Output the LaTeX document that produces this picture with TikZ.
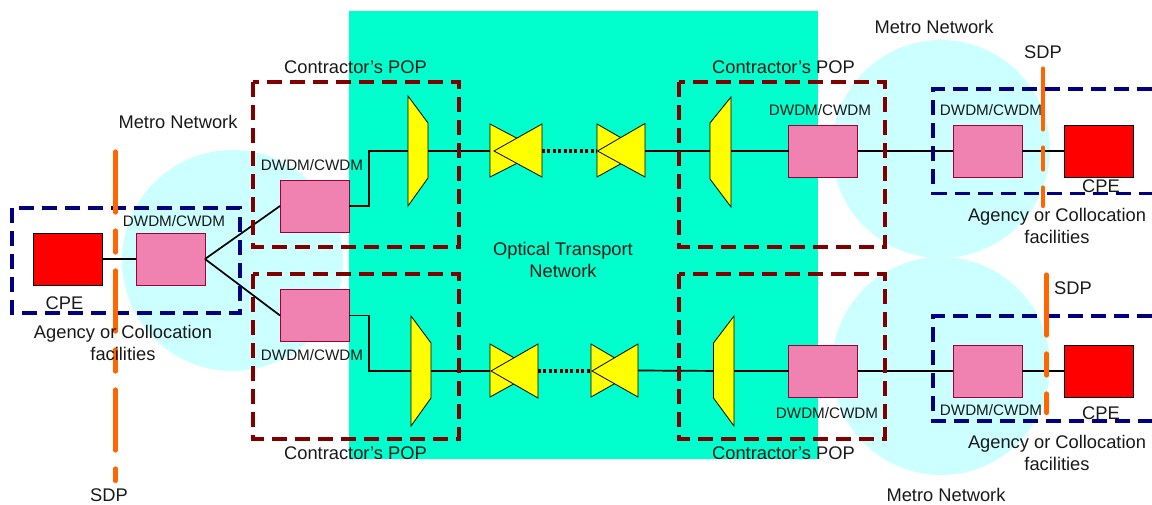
\documentclass[tikz,border=0pt]{standalone}
\usepackage{fontspec}
\setmainfont{Liberation Sans}
\definecolor{teal1}{HTML}{00FFCC}
\definecolor{cloud}{HTML}{CCFFFF}
\definecolor{pinkf}{HTML}{EF82B0}
\definecolor{pinkd}{HTML}{990033}
\definecolor{popred}{HTML}{800000}
\definecolor{agblue}{HTML}{000080}
\definecolor{sdporange}{HTML}{FF6600}
\definecolor{yel}{HTML}{FFFF00}
\definecolor{redf}{HTML}{FF0000}
\tikzset{
  mux/.style={draw=pinkd,line width=1pt,fill=pinkf,minimum width=69pt,minimum height=52pt,inner sep=0pt,outer sep=0pt},
  cpebox/.style={draw=black,line width=1pt,fill=redf,minimum width=69pt,minimum height=52pt,inner sep=0pt,outer sep=0pt},
  yshape/.style={draw=black,line width=0.8pt,fill=yel,line join=miter},
  fibre/.style={draw=black,line width=1.7pt},
  fibredot/.style={draw=black,line width=3.1pt,dash pattern=on 3pt off 2.4pt},
  popbox/.style={draw=popred,line width=3.1pt,dash pattern=on 15pt off 8pt},
  agbox/.style={draw=agblue,line width=3.1pt,dash pattern=on 15pt off 8pt},
  sdpline/.style={draw=sdporange,line width=4.2pt,line cap=round,dash pattern=on 61pt off 18pt on 22pt off 18pt},
  big/.style={font=\fontsize{18.3}{22}\selectfont,text=black!90,inner sep=0pt,align=center},
  small/.style={font=\fontsize{15.2}{18}\selectfont,text=black!90,inner sep=0pt,align=center},
}
\begin{document}
\begin{tikzpicture}[x=1pt,y=-1pt]
\useasboundingbox (0,0) rectangle (1152,504);
% clouds and transport area
\fill[cloud] (232.5,260.5) circle[radius=110.5pt];
\fill[cloud] (941,149) circle[radius=109pt];
\fill[cloud] (941,366) circle[radius=109pt];
\fill[teal1] (349,11) rectangle (818,459);
% anchors of optical elements
\coordinate (tzA) at (418,151);
\coordinate (bwA) at (491,151);
\coordinate (bwAe) at (542,151);
\coordinate (bwB) at (597,151);
\coordinate (bwBe) at (645,151);
\coordinate (tzB) at (720,151);
\coordinate (tzC) at (421,371);
\coordinate (bwC) at (491,371);
\coordinate (bwCe) at (538,371);
\coordinate (bwD) at (591,371);
\coordinate (bwDe) at (638,370.5);
\coordinate (tzD) at (724,371);
% boxes
\node[cpebox] (cpeL) at (67.5,259) {};
\node[mux] (muxL) at (170.5,259) {};
\node[mux] (muxU) at (314.5,206) {};
\node[mux] (muxD) at (314.5,315.5) {};
\node[mux] (muxTR1) at (823,151) {};
\node[mux] (muxTR2) at (987.5,151) {};
\node[cpebox] (cpeTR) at (1098.5,151) {};
\node[mux] (muxBR1) at (823,371) {};
\node[mux] (muxBR2) at (987.5,371) {};
\node[cpebox] (cpeBR) at (1098.5,371) {};
% connectors
\draw[fibre] (cpeL.east) -- (muxL.west);
\draw[fibre] (muxL.east) -- (muxU.west);
\draw[fibre] (muxL.east) -- (muxD.west);
\draw[fibre] (muxU.east) -- ++(20,0) |- (tzA) -- (bwA);
\draw[fibre] (muxD.east) -- ++(20,0) |- (tzC) -- (bwC);
\draw[fibredot] (bwAe) -- (bwB);
\draw[fibredot] (bwCe) -- (bwD);
\draw[fibre] (bwBe) -- (tzB) -- (muxTR1.west);
\draw[fibre] (bwDe) -- (tzD) -- (muxBR1.west);
\draw[fibre] (muxTR1.east) -- (muxTR2.west);
\draw[fibre] (muxTR2.east) -- (cpeTR.west);
\draw[fibre] (muxBR1.east) -- (muxBR2.west);
\draw[fibre] (muxBR2.east) -- (cpeBR.west);
% demultiplexers
\draw[yshape] (408,96) -- (428,123) -- (428,178) -- (408,206) -- cycle;
\draw[yshape] (411,316) -- (431,343) -- (431,398) -- (411,426) -- cycle;
\draw[yshape] (731,97) -- (710,123) -- (710,179) -- (731,207) -- cycle;
\draw[yshape] (734,316) -- (713.5,343) -- (713.5,398) -- (734,426) -- cycle;
% bow ties
\draw[yshape] (490,124) -- (490,177) -- (541,151) -- cycle;
\draw[yshape] (542,124) -- (542,177) -- (494,151) -- cycle;
\draw[yshape] (597,124) -- (597,177) -- (644,151) -- cycle;
\draw[yshape] (645,123.5) -- (645,177) -- (597.5,151) -- cycle;
\draw[yshape] (490,344) -- (490,397) -- (537,371) -- cycle;
\draw[yshape] (538,344) -- (538,398) -- (491,371) -- cycle;
\draw[yshape] (591,344) -- (591,397) -- (637,371) -- cycle;
\draw[yshape] (638,344) -- (638,397) -- (592,371) -- cycle;
% dashed frames
\draw[popbox] (253,82) rectangle (459,247);
\draw[popbox] (253,274) rectangle (459,439);
\draw[popbox] (679,82) rectangle (885,247);
\draw[popbox] (679,274) rectangle (885,439);
\draw[agbox] (12,208) rectangle (240,313);
\draw[agbox] (1152,89) -- (933,89) -- (933,193.5) -- (1152,193.5);
\draw[agbox] (1152,316) -- (933,316) -- (933,421) -- (1152,421);
% SDP lines
\coordinate (sdpLa) at (115.5,151.5);
\coordinate (sdpLb) at (115.5,481);
\coordinate (sdpTa) at (1043,68.5);
\coordinate (sdpTb) at (1043,206);
\coordinate (sdpBa) at (1046.5,274.5);
\coordinate (sdpBb) at (1046.5,413);
\draw[sdpline] (sdpLa) -- (sdpLb);
\draw[sdpline] (sdpTa) -- (sdpTb);
\draw[sdpline] (sdpBa) -- (sdpBb);
% labels
\node[big] (tMetroL) at (178,122) {Metro Network};
\node[big] (tMetroT) at (934,27) {Metro Network};
\node[big] (tMetroB) at (946,495) {Metro Network};
\node[big] (tPop1) at (355.5,67.2) {Contractor’s POP};
\node[big] (tPop2) at (783.5,67.2) {Contractor’s POP};
\node[big] (tPop3) at (355.5,453.2) {Contractor’s POP};
\node[big] (tPop4) at (783.5,453.2) {Contractor’s POP};
\node[big] (tSdp1) at (1043,52.5) {SDP};
\node[big] (tSdp2) at (1073,288.5) {SDP};
\node[big] (tSdp3) at (109,495) {SDP};
\node[big] (tOtn) at (563,260) {Optical Transport\\[0pt]Network};
\node[big] (tAg1) at (123,343) {Agency or Collocation\\[0pt]facilities};
\node[big] (tAg2) at (1057,226) {Agency or Collocation\\[0pt]facilities};
\node[big] (tAg3) at (1057,453) {Agency or Collocation\\[0pt]facilities};
\node[big] (tCpe1) at (64.5,303) {CPE};
\node[big] (tCpe2) at (1101,186) {CPE};
\node[big] (tCpe3) at (1101,413) {CPE};
\node[small] (tD1) at (174,221) {DWDM/CWDM};
\node[small] (tD2) at (312,165) {DWDM/CWDM};
\node[small] (tD3) at (312,355) {DWDM/CWDM};
\node[small] (tD4) at (820,110) {DWDM/CWDM};
\node[small] (tD5) at (991,110) {DWDM/CWDM};
\node[small] (tD6) at (827,413) {DWDM/CWDM};
\node[small] (tD7) at (991,410) {DWDM/CWDM};
\end{tikzpicture}
\end{document}
